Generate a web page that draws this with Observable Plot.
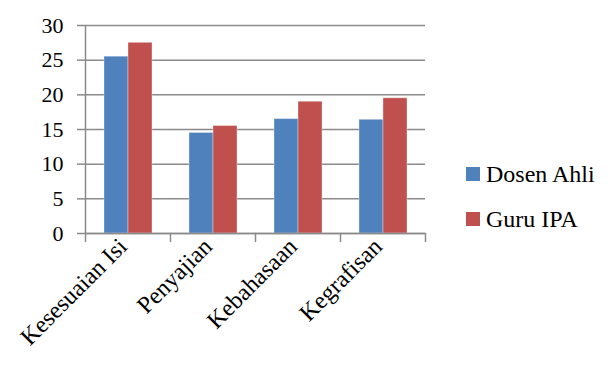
<!DOCTYPE html>
<html>
<head>
<meta charset="utf-8">
<script src="https://cdn.jsdelivr.net/npm/d3@7"></script>
<script src="https://cdn.jsdelivr.net/npm/@observablehq/plot@0.6"></script>
<style>
  body { margin: 0; background: #fff; }
  .wrap { position: relative; width: 611px; height: 371px; overflow: hidden; }
  .legend { position: absolute; left: 466px; top: 159px; font-size: 24px; color: #000; }
  .item { display: flex; align-items: center; height: 30px; margin-bottom: 15px; white-space: nowrap; }
  .sw { display: inline-block; width: 14px; height: 14px; margin-right: 6px; }
</style>
</head>
<body>
<div class="wrap" id="wrap"></div>
<script>
const categories = ["Kesesuaian Isi", "Penyajian", "Kebahasaan", "Kegrafisan"];
const series = ["Dosen Ahli", "Guru IPA"];
const dosenAhli = [25.5, 14.5, 16.5, 16.4];
const guruIPA = [27.5, 15.5, 19.0, 19.5];
const yTicks = [0, 5, 10, 15, 20, 25, 30];
const colors = ["#4F81BD", "#C0504D"];

const values = [dosenAhli, guruIPA];
const data = [];
categories.forEach((c, i) => series.forEach((s, j) => data.push({category: c, series: s, value: values[j][i]})));

const W = 611, H = 371;
const mTop = 25, mBottom = 138, mLeft = 85, mRight = 186;
const plotH = H - mTop - mBottom;
const gray = "#8a8a8a";
const lineShape = {draw(context, l) { context.moveTo(0, 0); context.lineTo(0, -l); }};

const chart = Plot.plot({
  width: W,
  height: H,
  marginTop: mTop,
  marginBottom: mBottom,
  marginLeft: mLeft,
  marginRight: mRight,
  style: {fontFamily: "Times New Roman", background: "#fff"},
  fx: {domain: categories, padding: 0, label: null},
  x: {domain: series, paddingInner: 0, paddingOuter: 0.735, axis: null},
  y: {domain: [0, 30], label: null, axis: null},
  color: {domain: series, range: colors},
  marks: [
    Plot.gridY(yTicks, {stroke: gray, strokeOpacity: 1, strokeWidth: 1.5}),
    Plot.axisY(yTicks, {tickSize: 8, tickPadding: 14, stroke: gray, strokeWidth: 1.5, fontSize: 22, fontFamily: "Times New Roman", fill: "#000", label: null}),
    Plot.barY(data, {fx: "category", x: "series", y: "value", fill: "series", stroke: "#ffffff", strokeOpacity: 0.35, strokeWidth: 1}),
    Plot.ruleY([0], {stroke: gray, strokeWidth: 1.5}),
    Plot.vector(categories.slice(0, 1), {fx: d => d, frameAnchor: "bottom-left", anchor: "start", rotate: 0, length: plotH, shape: lineShape, stroke: gray, strokeWidth: 1.5}),
    Plot.vector(categories, {fx: d => d, frameAnchor: "bottom-left", anchor: "start", rotate: 180, length: 8, shape: lineShape, stroke: gray, strokeWidth: 1.5}),
    Plot.vector(categories.slice(-1), {fx: d => d, frameAnchor: "bottom-right", anchor: "start", rotate: 180, length: 8, shape: lineShape, stroke: gray, strokeWidth: 1.5}),
    Plot.axisFx({anchor: "bottom", tickSize: 0, tickPadding: 9, dx: -5, tickRotate: -45, fontSize: 24, fontFamily: "Times New Roman", fill: "#000", label: null})
  ]
});

const wrap = document.getElementById("wrap");
wrap.appendChild(chart);

const legend = document.createElement("div");
legend.className = "legend";
legend.setAttribute("style", "font-family: 'Times New Roman', 'Liberation Serif', serif");
series.forEach((s, j) => {
  const item = document.createElement("div");
  item.className = "item";
  const sw = document.createElement("span");
  sw.className = "sw";
  sw.style.background = colors[j];
  const t = document.createElement("span");
  t.textContent = s;
  item.appendChild(sw);
  item.appendChild(t);
  legend.appendChild(item);
});
wrap.appendChild(legend);
</script>
</body>
</html>
